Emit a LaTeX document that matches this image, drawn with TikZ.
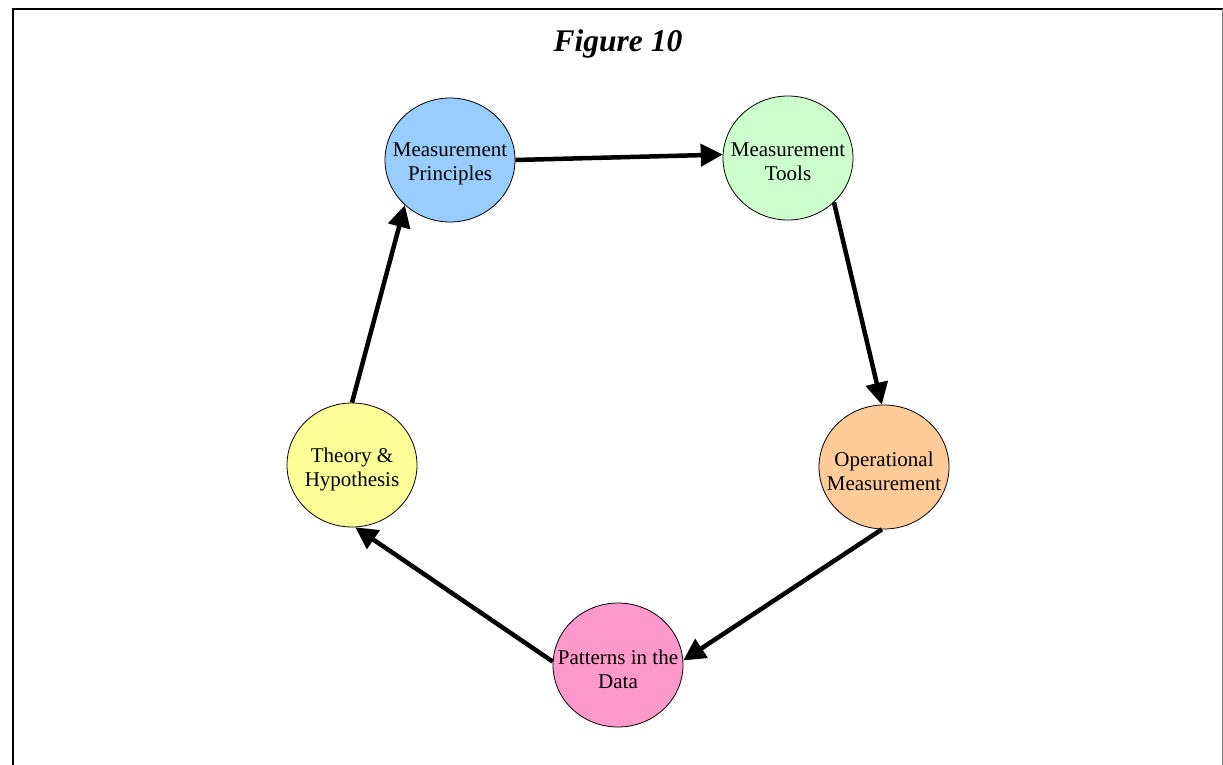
\documentclass[tikz,border=0pt]{standalone}
\usepackage{fontspec}
\setmainfont{Liberation Serif}
\usetikzlibrary{arrows.meta,shapes.geometric}
\definecolor{cblue}{HTML}{99CCFF}
\definecolor{cgreen}{HTML}{CCFFCC}
\definecolor{corange}{HTML}{FFCC99}
\definecolor{cpink}{HTML}{FF99CC}
\definecolor{cyellow}{HTML}{FFFF99}
\begin{document}
\begin{tikzpicture}[x=1pt,y=-1pt,
  stage/.style={ellipse, draw=black, line width=0.8pt, minimum width=130pt, minimum height=124pt, inner sep=0pt},
  stagetext/.style={align=center, inner sep=0pt, yshift=-4pt, font=\fontsize{21}{24}\selectfont},
  flow/.style={line width=4.5pt, -{Triangle[length=22pt,width=22pt]}}]
\useasboundingbox (0,0) rectangle (1223,765);
\fill[white] (0,0) rectangle (1223,765);
\draw[line width=2pt, line cap=rect] (13,766) -- (13,9) -- (1222,9);
\draw[gray, line width=1pt] (1222,9) -- (1222,766);
\node[font=\fontsize{31.5}{36}\selectfont\bfseries\itshape] (title) at (618,44) {Figure 10};
\node[stage, fill=cblue, label={[stagetext]center:Measurement\\Principles}] (mp) at (450,160) {};
\node[stage, fill=cgreen, label={[stagetext]center:Measurement\\Tools}] (mt) at (788,158) {};
\node[stage, fill=corange, label={[stagetext]center:Operational\\Measurement}] (om) at (884,467) {};
\node[stage, fill=cpink, label={[stagetext]center:Patterns in the\\Data}] (pd) at (618,665) {};
\node[stage, fill=cyellow, label={[stagetext]center:Theory \&\\Hypothesis}] (th) at (352,465) {};
\draw[flow] (mp.east) -- (mt.177);
\draw[flow] (mt.-44) -- (om.92);
\draw[flow] (om.-92) -- (pd.4);
\draw[flow] (pd.177) -- (th.-87);
\draw[flow] (th.90) -- (mp.-135);
\end{tikzpicture}
\end{document}
